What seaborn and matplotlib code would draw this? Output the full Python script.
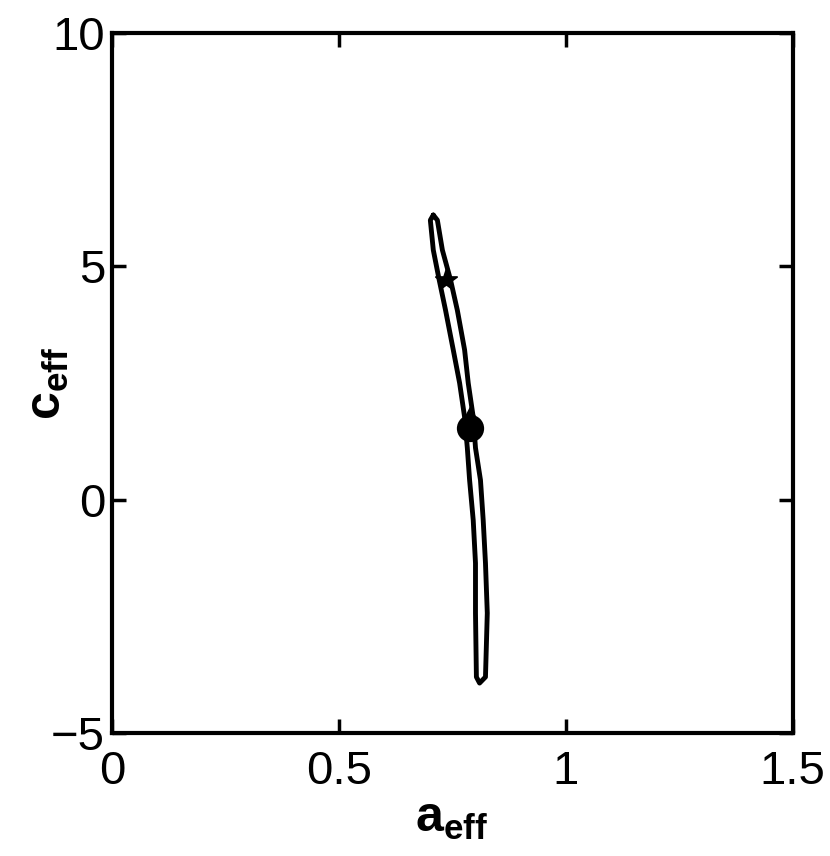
import numpy as np
import pandas as pd
import seaborn as sns
import matplotlib
matplotlib.use("Agg")
import matplotlib.pyplot as plt

# contour outline (left edge down, right edge up)
loop_a = [0.708, 0.7015, 0.708, 0.721, 0.735, 0.752, 0.766, 0.777, 0.783, 0.788, 0.796, 0.801, 0.801, 0.803, 0.810,
          0.823, 0.827, 0.823, 0.818, 0.812, 0.801, 0.796, 0.785, 0.777, 0.761, 0.746, 0.728, 0.717, 0.708]
loop_c = [6.10, 5.99, 5.35, 4.71, 4.06, 3.21, 2.50, 1.77, 1.11, 0.42, -0.44, -1.36, -2.43, -3.80, -3.93,
          -3.80, -2.43, -1.36, -0.44, 0.42, 1.11, 1.77, 2.50, 3.21, 4.06, 4.71, 5.35, 5.99, 6.10]

# marked points
star_a, star_c = [0.735], [4.71]
dot_a, dot_c = [0.79], [1.54]
tri_a, tri_c = [0.79], [1.80]

xticks = [0, 0.5, 1, 1.5]
xticklabels = ["0", "0.5", "1", "1.5"]
yticks = [-5, 0, 5, 10]
yticklabels = ["\u22125", "0", "5", "10"]

sns.set_style("white")
plt.rcParams['font.family'] = ['Liberation Sans', 'DejaVu Sans']
plt.rcParams['mathtext.fontset'] = 'custom'
plt.rcParams['mathtext.bf'] = 'Liberation Sans:bold'
plt.rcParams['mathtext.rm'] = 'Liberation Sans'

fig = plt.figure(figsize=(8.3, 8.56), dpi=100)
ax = fig.add_axes([0.135, 0.1437, 0.82, 0.8177])

df = pd.DataFrame({'a': loop_a, 'c': loop_c})
sns.lineplot(data=df, x='a', y='c', sort=False, estimator=None, color='black', linewidth=3.5, ax=ax)

sns.scatterplot(x=star_a, y=star_c, marker='*', s=260, color='black', edgecolor='black', ax=ax, zorder=5)
sns.scatterplot(x=tri_a, y=tri_c, marker='^', s=180, color='black', edgecolor='black', ax=ax, zorder=5)
sns.scatterplot(x=dot_a, y=dot_c, marker='o', s=330, color='black', edgecolor='black', ax=ax, zorder=5)

ax.set_xlim(0, 1.5)
ax.set_ylim(-5, 10)
ax.set_xticks(xticks)
ax.set_xticklabels(xticklabels)
ax.set_yticks(yticks)
ax.set_yticklabels(yticklabels)
ax.tick_params(direction='in', length=10, width=2.5, labelsize=34, top=True, right=True,
               bottom=True, left=True, colors='black')
ax.tick_params(axis='x', pad=12)
ax.tick_params(axis='y', pad=5)

for s in ax.spines.values():
    s.set_linewidth(3)
    s.set_color('black')

ax.set_xlabel(r'$\mathbf{a_{eff}}$', fontsize=36, color='black')
ax.set_ylabel(r'$\mathbf{c_{eff}}$', fontsize=36, color='black')
ax.xaxis.set_label_coords(0.4985, -0.09)
ax.yaxis.set_label_coords(-0.06, 0.50)

fig.savefig('out.png', dpi=100, facecolor='white')
